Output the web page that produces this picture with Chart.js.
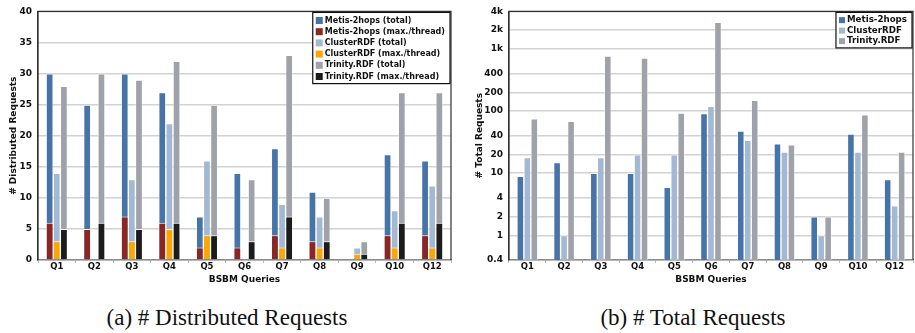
<!DOCTYPE html>
<html>
<head>
<meta charset="utf-8">
<script src="https://cdn.jsdelivr.net/npm/chart.js@4"></script>
<style>
  body { margin: 0; width: 915px; height: 333px; background: #fff; position: relative; overflow: hidden; }
  .box { position: absolute; top: 0; height: 292px; }
  .cap { position: absolute; top: 304px; font: 23px "Liberation Serif", serif; color: #111; text-align: center; line-height: 28px; }
</style>
</head>
<body>
<div class="box" style="left:0;width:458px"><canvas id="distChart"></canvas></div>
<div class="box" style="left:458px;width:457px"><canvas id="totalChart"></canvas></div>
<div class="cap" style="left:100px;width:254px">(a) # Distributed Requests</div>
<div class="cap" style="left:594px;width:198px">(b) # Total Requests</div>
<script>
  'use strict';

  var queries = ['Q1', 'Q2', 'Q3', 'Q4', 'Q5', 'Q6', 'Q7', 'Q8', 'Q9', 'Q10', 'Q12'];

  // (a) distributed requests
  var metisTotal = [30, 25, 30, 27, 7, 14, 18, 11, null, 17, 16];
  var metisMax = [6, 5, 7, 6, 2, 2, 4, 3, null, 4, 4];
  var clusterTotal = [14, null, 13, 22, 16, null, 9, 7, 2, 8, 12];
  var clusterMax = [3, null, 3, 5, 4, null, 2, 2, 1, 2, 2];
  var trinityTotal = [28, 30, 29, 32, 25, 13, 33, 10, 3, 27, 27];
  var trinityMax = [5, 6, 5, 6, 4, 3, 7, 3, 1, 6, 6];

  // (b) total requests (log scale)
  var metisAll = [9, 15, 10, 10, 6, 92, 48, 30, 2, 43, 8];
  var clusterAll = [18, 1, 18, 20, 20, 120, 34, 22, 1, 22, 3];
  var trinityAll = [76, 69, 770, 720, 94, 2700, 150, 29, 2, 88, 22];
  var logTicks = [0.4, 1, 2, 4, 10, 20, 40, 100, 200, 400, 1000, 2000, 4000];

  var BLUE = '#4673a8', RED = '#8c2523', LBLUE = '#a3b9d3', ORANGE = '#ffa500', GRAY = '#9fa2a9', BLACK = '#1c1c1c';
  var FONT = '"DejaVu Sans", sans-serif';

  function bar(label, data, color, stack, order) {
    return {
      label: label,
      data: data,
      backgroundColor: color,
      borderColor: '#ffffff',
      borderWidth: { top: 1, left: 0.6, right: 0.6, bottom: 0 },
      borderSkipped: false,
      stack: stack,
      order: order,
      categoryPercentage: 0.57,
      barPercentage: 0.97
    };
  }

  // legend box inside the plot, top right
  var boxLegend = {
    id: 'boxLegend',
    afterDraw: function (chart, args, opts) {
      var ctx = chart.ctx;
      var area = chart.chartArea;
      var items = chart.data.datasets;
      ctx.save();
      ctx.font = 'bold ' + opts.size + 'px ' + FONT;
      var w = 0;
      items.forEach(function (d) { w = Math.max(w, ctx.measureText(d.label).width); });
      var boxW = w + opts.sq + 10;
      var boxH = items.length * opts.row + 4;
      var x0 = area.right - 1 - boxW;
      var y0 = area.top + 1;
      ctx.fillStyle = '#fff';
      ctx.fillRect(x0, y0, boxW, boxH);
      ctx.strokeStyle = '#111';
      ctx.lineWidth = 1.2;
      ctx.strokeRect(x0, y0, boxW, boxH);
      ctx.textBaseline = 'middle';
      items.forEach(function (d, i) {
        var cy = y0 + 2.5 + opts.row * (i + 0.5);
        ctx.fillStyle = d.backgroundColor;
        ctx.fillRect(x0 + 3, cy - opts.sq / 2, opts.sq, opts.sq);
        ctx.fillStyle = '#111';
        ctx.fillText(d.label, x0 + 5 + opts.sq, cy);
      });
      ctx.restore();
    }
  };

  var frame = {
    id: 'frame',
    afterDatasetsDraw: function (chart) {
      var a = chart.chartArea;
      var ctx = chart.ctx;
      ctx.save();
      ctx.strokeStyle = '#333';
      ctx.lineWidth = 1.2;
      ctx.beginPath();
      ctx.moveTo(a.left, a.bottom);
      ctx.lineTo(a.left, a.top);
      ctx.lineTo(a.right, a.top);
      ctx.lineTo(a.right, a.bottom);
      ctx.stroke();
      ctx.restore();
    }
  };

  function xScale() {
    return {
      grid: { offset: true, drawOnChartArea: false, tickLength: 3, color: '#a9bcd6', lineWidth: 1 },
      border: { color: '#8a8a8a', width: 1.5 },
      ticks: { color: '#111', font: { family: FONT, size: 8.5, weight: 'bold' }, padding: -1, autoSkip: false, maxRotation: 0 },
      title: { display: true, text: 'BSBM Queries', color: '#111', font: { family: FONT, size: 9, weight: 'bold' }, padding: { top: 0, bottom: 7 } },
      afterFit: function (scale) { scale.height = 32; }
    };
  }

  Chart.defaults.animation = false;
  Chart.defaults.responsive = true;
  Chart.defaults.maintainAspectRatio = false;

  new Chart(document.getElementById('distChart'), {
    type: 'bar',
    data: {
      labels: queries,
      datasets: [
        bar('Metis-2hops (total)', metisTotal, BLUE, 'metis', 1),
        bar('Metis-2hops (max./thread)', metisMax, RED, 'metis', 0),
        bar('ClusterRDF (total)', clusterTotal, LBLUE, 'cluster', 1),
        bar('ClusterRDF (max./thread)', clusterMax, ORANGE, 'cluster', 0),
        bar('Trinity.RDF (total)', trinityTotal, GRAY, 'trinity', 1),
        bar('Trinity.RDF (max./thread)', trinityMax, BLACK, 'trinity', 0)
      ]
    },
    options: {
      layout: { padding: { top: 6, right: 7, left: 0, bottom: 0 } },
      plugins: {
        legend: { display: false },
        tooltip: { enabled: false },
        boxLegend: { size: 8, sq: 7, row: 11.2 }
      },
      scales: {
        x: xScale(),
        y: {
          stacked: false,
          min: 0,
          max: 40,
          ticks: { stepSize: 5, color: '#111', font: { family: FONT, size: 9, weight: 'bold' }, padding: 6 },
          grid: { color: '#d2d2d2', lineWidth: 1.5, drawTicks: false },
          border: { color: '#333', width: 1.2 },
          title: { display: true, text: '# Distributed Requests', color: '#111', font: { family: FONT, size: 9, weight: 'bold' }, padding: { top: 8, bottom: 0 } },
          afterFit: function (scale) { scale.width = 38; }
        }
      }
    },
    plugins: [frame, boxLegend]
  });

  new Chart(document.getElementById('totalChart'), {
    type: 'bar',
    data: {
      labels: queries,
      datasets: [
        bar('Metis-2hops', metisAll, BLUE),
        bar('ClusterRDF', clusterAll, LBLUE),
        bar('Trinity.RDF', trinityAll, GRAY)
      ]
    },
    options: {
      layout: { padding: { top: 6, right: 2, left: 0, bottom: 0 } },
      plugins: {
        legend: { display: false },
        tooltip: { enabled: false },
        boxLegend: { size: 8.7, sq: 6, row: 10.5 }
      },
      scales: {
        x: xScale(),
        y: {
          type: 'logarithmic',
          min: 0.4,
          max: 4000,
          afterBuildTicks: function (scale) {
            scale.ticks = logTicks.map(function (v) { return { value: v }; });
          },
          ticks: {
            autoSkip: false,
            color: '#111',
            font: { family: FONT, size: 9, weight: 'bold' },
            padding: 6,
            callback: function (v) { return v >= 1000 ? (v / 1000) + 'k' : String(v); }
          },
          grid: { color: '#d2d2d2', lineWidth: 1.5, drawTicks: false },
          border: { color: '#333', width: 1.2 },
          title: { display: true, text: '# Total Requests', color: '#111', font: { family: FONT, size: 9, weight: 'bold' }, padding: { top: 16, bottom: 0 } },
          afterFit: function (scale) { scale.width = 51; }
        }
      }
    },
    plugins: [frame, boxLegend]
  });
</script>
</body>
</html>
